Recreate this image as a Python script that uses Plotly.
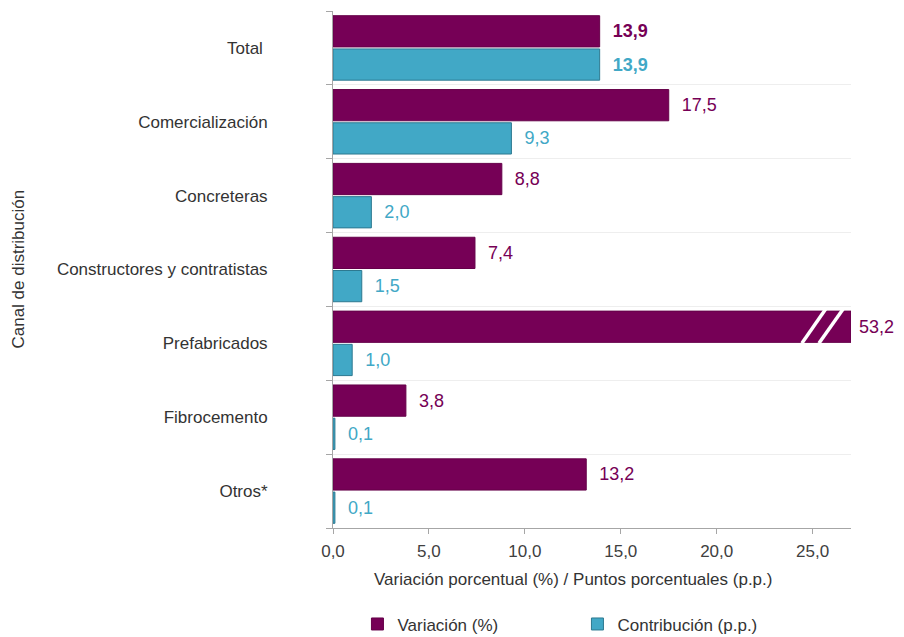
import plotly.graph_objects as go

categories = ["Total", "Comercialización", "Concreteras", "Constructores y contratistas",
              "Prefabricados", "Fibrocemento", "Otros*"]
variacion = [13.9, 17.5, 8.8, 7.4, 53.2, 3.8, 13.2]
contribucion = [13.9, 9.3, 2.0, 1.5, 1.0, 0.1, 0.1]
x_ticks = [0, 5, 10, 15, 20, 25]

X_MAX = 27.0
PURPLE = "#760056"
TEAL = "#41A8C6"
FONT = "Liberation Sans, Arial"

def fmt(v):
    return f"{v:.1f}".replace(".", ",")

def shown(vals):
    return [min(v, X_MAX) for v in vals]

def labels(vals):
    out = []
    for c, v in zip(categories, vals):
        s = fmt(v)
        s = f"<b>{s}</b>" if c == "Total" else s
        pad = "\u00a0" if v > X_MAX else "\u00a0\u00a0"
        out.append(pad + s)
    return out

fig = go.Figure()
fig.add_trace(go.Bar(
    y=categories, x=shown(variacion), orientation="h", name="Variación (%)",
    marker=dict(color=PURPLE, line=dict(color="#650049", width=1)),
    text=labels(variacion), textposition="outside", cliponaxis=False,
    textfont=dict(color=PURPLE, size=18, family=FONT),
))
fig.add_trace(go.Bar(
    y=categories, x=shown(contribucion), orientation="h", name="Contribución (p.p.)",
    marker=dict(color=TEAL, line=dict(color="#2d7990", width=1)),
    text=labels(contribucion), textposition="outside", cliponaxis=False,
    textfont=dict(color=TEAL, size=18, family=FONT),
))

# break marks on the clipped bar (diagonal white strokes)
for i, v in enumerate(variacion):
    if v > X_MAX:
        for off_bottom, off_top in ((2.56, 1.31), (1.67, 0.40)):
            fig.add_shape(type="line", xref="x", yref="y",
                          x0=X_MAX - off_bottom, x1=X_MAX - off_top,
                          y0=i - 0.0, y1=i - 0.47,
                          line=dict(color="white", width=3.5))

fig.update_layout(
    width=896, height=629,
    margin=dict(l=325, r=53, t=3, b=109, autoexpand=False),
    paper_bgcolor="white", plot_bgcolor="white",
    barmode="group", bargap=0.1, bargroupgap=0.06,
    separators=",.",
    font=dict(family=FONT, color="#404040", size=16),
    legend=dict(orientation="h", xref="container", yref="container",
                x=0.39, xanchor="left", y=0.02, yanchor="middle",
                font=dict(size=17, color="#333333"), entrywidth=175, entrywidthmode="pixels",
                itemwidth=30, traceorder="normal"),
    showlegend=True,
    annotations=[
        dict(text="Variación porcentual (%) / Puntos porcentuales (p.p.)",
             xref="paper", yref="paper", x=0.464, y=-0.10, xanchor="center", yanchor="middle",
             showarrow=False, font=dict(size=17, color="#333333")),
        dict(text="Canal de distribución", textangle=-90,
             xref="paper", yref="paper", x=-0.608, y=0.5, xanchor="center", yanchor="middle",
             showarrow=False, font=dict(size=17, color="#333333")),
    ],
)
fig.update_xaxes(
    range=[0, X_MAX], tickvals=x_ticks, tickformat=".1f",
    showgrid=False, zeroline=False,
    showline=True, linecolor="#A6A6A6", linewidth=1,
    ticks="outside", ticklen=5, tickcolor="#A6A6A6",
    ticklabelstandoff=3,
    tickfont=dict(size=17, color="#404040"),
)
fig.update_yaxes(
    type="category", autorange="reversed", tickson="boundaries",
    tickmode="array", tickvals=categories,
    ticktext=[c + "\u00a0" if c == "Total" else c for c in categories],
    showgrid=True, gridcolor="#EEEEEE", gridwidth=1,
    showline=True, linecolor="#A6A6A6", linewidth=1,
    ticks="outside", ticklen=6, tickcolor="#A6A6A6",
    ticklabelstandoff=61,
    tickfont=dict(size=17, color="#333333"),
)
fig.write_html("out.html")
